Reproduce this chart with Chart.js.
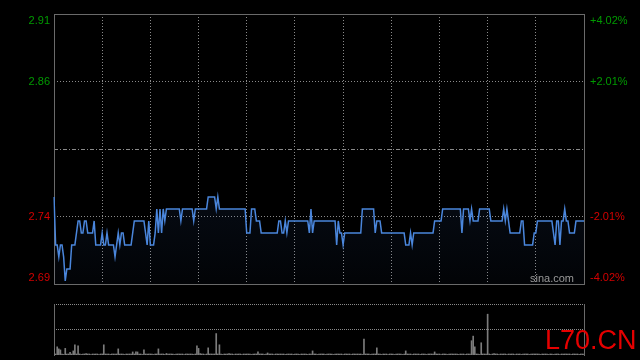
<!DOCTYPE html>
<html>
<head>
<meta charset="utf-8">
<script src="https://cdn.jsdelivr.net/npm/chart.js@4/dist/chart.umd.min.js"></script>
<style>
html,body{margin:0;padding:0;background:#000;}
#wrap{position:relative;width:640px;height:360px;background:#000;overflow:hidden;}
canvas{position:absolute;left:0;top:0;}
</style>
</head>
<body>
<div id="wrap">
<canvas id="price" width="640" height="360"></canvas>
<canvas id="vol" width="640" height="360"></canvas>
</div>
<script>
// ---- data ----
const prevClose = 2.80;
const priceMin = 2.6874;   // -4.02%
const priceMax = 2.9126;   // +4.02%
const priceGrid = [2.7437, 2.8563];
const leftLabels = ['2.91', '2.86', '2.74', '2.69'];
const rightLabels = ['+4.02%', '+2.01%', '-2.01%', '-4.02%'];
const labelValues = [2.9126, 2.8563, 2.7437, 2.6874];

const prices = [
2.76,2.72,2.72,2.71,2.72,2.72,2.71,2.69,2.70,2.70,
2.70,2.72,2.72,2.72,2.73,2.74,2.74,2.73,2.73,2.74,
2.74,2.73,2.73,2.73,2.73,2.74,2.72,2.72,2.72,2.72,
2.73,2.72,2.72,2.73,2.72,2.72,2.72,2.72,2.71,2.72,
2.73,2.72,2.73,2.73,2.72,2.72,2.72,2.72,2.72,2.73,
2.74,2.74,2.74,2.74,2.74,2.74,2.74,2.73,2.72,2.74,
2.72,2.72,2.72,2.73,2.75,2.73,2.75,2.73,2.75,2.74,
2.75,2.75,2.75,2.75,2.75,2.75,2.75,2.75,2.75,2.74,
2.75,2.75,2.75,2.75,2.75,2.75,2.75,2.74,2.75,2.75,
2.75,2.75,2.75,2.75,2.75,2.75,2.76,2.76,2.76,2.76,
2.76,2.75,2.76,2.75,2.75,2.75,2.75,2.75,2.75,2.75,
2.75,2.75,2.75,2.75,2.75,2.75,2.75,2.75,2.75,2.75,
2.73,2.73,2.73,2.75,2.75,2.75,2.74,2.74,2.74,2.73,
2.73,2.73,2.73,2.73,2.73,2.73,2.73,2.73,2.73,2.73,
2.74,2.74,2.73,2.73,2.74,2.73,2.74,2.74,2.74,2.74,
2.74,2.74,2.74,2.74,2.74,2.74,2.74,2.74,2.74,2.73,
2.75,2.73,2.74,2.74,2.74,2.74,2.74,2.74,2.74,2.74,
2.74,2.74,2.74,2.74,2.74,2.74,2.72,2.74,2.73,2.73,
2.72,2.73,2.73,2.73,2.73,2.73,2.73,2.73,2.73,2.73,
2.73,2.73,2.75,2.75,2.75,2.75,2.75,2.75,2.75,2.75,
2.73,2.74,2.74,2.74,2.73,2.73,2.73,2.73,2.73,2.73,
2.73,2.73,2.73,2.73,2.73,2.73,2.73,2.73,2.73,2.72,
2.72,2.72,2.73,2.72,2.73,2.73,2.73,2.73,2.73,2.73,
2.73,2.73,2.73,2.73,2.73,2.73,2.73,2.74,2.74,2.74,
2.74,2.74,2.75,2.75,2.75,2.75,2.75,2.75,2.75,2.75,
2.75,2.75,2.75,2.75,2.73,2.75,2.75,2.75,2.75,2.74,
2.75,2.74,2.74,2.74,2.74,2.75,2.75,2.75,2.75,2.75,
2.75,2.75,2.74,2.74,2.74,2.74,2.74,2.74,2.74,2.74,
2.75,2.74,2.75,2.74,2.73,2.73,2.73,2.73,2.73,2.73,
2.73,2.74,2.74,2.72,2.72,2.72,2.72,2.72,2.72,2.73,
2.73,2.74,2.74,2.74,2.74,2.74,2.74,2.74,2.74,2.74,
2.74,2.73,2.72,2.74,2.74,2.72,2.74,2.74,2.75,2.74,
2.74,2.73,2.73,2.73,2.73,2.74,2.74,2.74,2.74,2.74,
2.74
];

const volumes = [
12,2,16,12,10,2,1,13,2,2,
5,2,8,20,2,18,2,1,2,2,
3,2,2,1,2,2,2,2,1,2,
2,20,2,2,2,1,2,2,2,2,
12,2,2,2,1,2,2,2,2,6,
2,6,6,2,2,1,10,2,2,2,
2,2,1,2,2,12,2,2,2,1,
3,2,2,2,2,1,2,2,2,2,
2,1,2,2,2,2,2,1,2,18,
13,3,2,2,1,2,14,2,2,2,
2,42,2,20,2,1,2,2,2,3,
2,2,1,2,2,2,2,1,2,2,
2,2,2,1,2,2,2,6,2,2,
2,1,2,4,2,2,2,1,2,2,
2,2,2,2,1,2,2,2,2,1,
2,2,2,1,2,2,2,2,1,2,
2,8,2,2,1,2,2,2,2,1,
2,2,2,2,1,2,2,2,2,2,
1,2,2,2,2,1,2,2,2,2,
2,2,1,31,2,2,2,1,2,2,
2,14,2,2,1,2,2,2,1,2,
2,2,1,2,2,2,2,1,2,8,
2,2,2,1,2,2,2,2,1,2,
2,2,1,2,2,2,2,6,2,2,
2,1,2,2,2,1,2,2,2,2,
2,2,1,2,2,2,1,2,2,2,
28,37,16,2,2,1,24,2,2,2,
80,2,1,2,3,2,2,1,2,2,
2,2,1,2,2,2,2,1,2,2,
2,1,2,2,2,2,1,2,2,2,
2,2,2,1,2,2,2,2,1,2,
2,1,2,2,2,1,2,2,2,2,
2,2,1,2,2,2,2,1,2,2,
2
];
const volMax = 100;
const volGrid = [50, 100];

// time categories (HK session, 1-minute)
const times = [];
for (let m = 9 * 60 + 30; m <= 12 * 60; m++) times.push(String(Math.floor(m / 60)).padStart(2, '0') + ':' + String(m % 60).padStart(2, '0'));
for (let m = 13 * 60 + 1; m <= 16 * 60; m++) times.push(String(Math.floor(m / 60)).padStart(2, '0') + ':' + String(m % 60).padStart(2, '0'));

const FONT = '"Liberation Sans", Arial, sans-serif';
const GREEN = '#009a00';
const RED = '#d40000';
const FRAME = '#6a6a6a';
const DOT = '#8a8a8a';

// ---- price chart ----
const frameAndLabels = {
  id: 'frameAndLabels',
  beforeDatasetsDraw(chart) {
    const {ctx, chartArea: a, scales: {y}} = chart;
    ctx.save();
    // prev close dash-dot line
    const yc = Math.round(y.getPixelForValue(prevClose)) + 0.5;
    ctx.strokeStyle = DOT;
    ctx.lineWidth = 1;
    ctx.setLineDash([4, 2, 1, 2]);
    ctx.beginPath(); ctx.moveTo(a.left, yc); ctx.lineTo(a.right, yc); ctx.stroke();
    ctx.setLineDash([]);
    ctx.strokeStyle = FRAME;
    ctx.strokeRect(Math.round(a.left) + 0.5, Math.round(a.top) + 0.5, Math.round(a.right - a.left), Math.round(a.bottom - a.top));
    ctx.restore();
  },
  afterDraw(chart) {
    const {ctx, chartArea: a, scales: {y}} = chart;
    ctx.save();
    ctx.font = '11px ' + FONT;
    ctx.textBaseline = 'middle';
    labelValues.forEach((v, i) => {
      let py = y.getPixelForValue(v);
      if (i === 0) py += 6.5;
      if (i === labelValues.length - 1) py -= 6;
      ctx.fillStyle = v > prevClose ? GREEN : RED;
      ctx.textAlign = 'right';
      ctx.fillText(leftLabels[i], a.left - 4, py);
      ctx.textAlign = 'left';
      ctx.fillText(rightLabels[i], a.right + 6, py);
    });
    ctx.fillStyle = '#9a9a9a';
    ctx.textAlign = 'right';
    ctx.font = '11px ' + FONT;
    ctx.fillText('sina.com', a.right - 10, a.bottom - 5);
    ctx.restore();
  }
};

const pctx = document.getElementById('price').getContext('2d');
const grad = pctx.createLinearGradient(0, 190, 0, 284);
grad.addColorStop(0, 'rgba(60,110,200,0.10)');
grad.addColorStop(1, 'rgba(60,110,200,0.03)');

new Chart(pctx, {
  type: 'line',
  data: {
    labels: times,
    datasets: [{
      data: prices,
      borderColor: '#4a86dc',
      borderWidth: 1.5,
      pointRadius: 0,
      tension: 0,
      fill: 'start',
      backgroundColor: grad
    }]
  },
  options: {
    responsive: false,
    animation: false,
    events: [],
    layout: {padding: {left: 54, right: 56, top: 14, bottom: 76}},
    plugins: {legend: {display: false}, tooltip: {enabled: false}},
    scales: {
      x: {
        type: 'category',
        offset: false,
        afterBuildTicks(s) { s.ticks = s.ticks.filter((t, i) => i % 30 === 0); },
        afterFit(s) { s.height = 0; },
        ticks: {display: false, autoSkip: false},
        grid: {
          drawTicks: false,
          color: (c) => (c.index === 0 || c.index === 11) ? 'rgba(0,0,0,0)' : DOT
        },
        border: {display: false, dash: [1, 2]}
      },
      y: {
        min: priceMin,
        max: priceMax,
        afterBuildTicks(s) { s.ticks = priceGrid.map(v => ({value: v})); },
        afterFit(s) { s.width = 0; },
        ticks: {display: false},
        grid: {drawTicks: false, color: DOT},
        border: {display: false, dash: [1, 2]}
      }
    }
  },
  plugins: [frameAndLabels]
});

// ---- volume chart ----
const volFrame = {
  id: 'volFrame',
  beforeDatasetsDraw(chart) {
    const {ctx, chartArea: a} = chart;
    ctx.save();
    ctx.strokeStyle = FRAME;
    ctx.lineWidth = 1;
    ctx.beginPath();
    ctx.moveTo(Math.round(a.left) + 0.5, a.top); ctx.lineTo(Math.round(a.left) + 0.5, a.bottom + 1);
    ctx.moveTo(Math.round(a.right) + 0.5, a.top); ctx.lineTo(Math.round(a.right) + 0.5, a.bottom + 1);
    ctx.stroke();
    ctx.restore();
  },
  afterDraw(chart) {
    const {ctx} = chart;
    ctx.save();
    ctx.fillStyle = '#e60000';
    ctx.font = '27px ' + FONT;
    ctx.textAlign = 'left';
    ctx.textBaseline = 'alphabetic';
    ctx.fillText('L70.CN', 545, 349);
    ctx.restore();
  }
};

new Chart(document.getElementById('vol').getContext('2d'), {
  type: 'bar',
  data: {
    labels: times,
    datasets: [{
      data: volumes,
      backgroundColor: '#7c7c7c',
      barThickness: 1,
      categoryPercentage: 1,
      barPercentage: 1
    }]
  },
  options: {
    responsive: false,
    animation: false,
    events: [],
    layout: {padding: {left: 54, right: 56, top: 304, bottom: 5}},
    plugins: {legend: {display: false}, tooltip: {enabled: false}},
    scales: {
      x: {
        type: 'category',
        offset: false,
        afterFit(s) { s.height = 0; },
        ticks: {display: false},
        grid: {display: false},
        border: {display: false}
      },
      y: {
        min: 0,
        max: volMax,
        afterBuildTicks(s) { s.ticks = volGrid.map(v => ({value: v})); },
        afterFit(s) { s.width = 0; },
        ticks: {display: false},
        grid: {drawTicks: false, color: DOT},
        border: {display: false, dash: [1, 1]}
      }
    }
  },
  plugins: [volFrame]
});
</script>
</body>
</html>
